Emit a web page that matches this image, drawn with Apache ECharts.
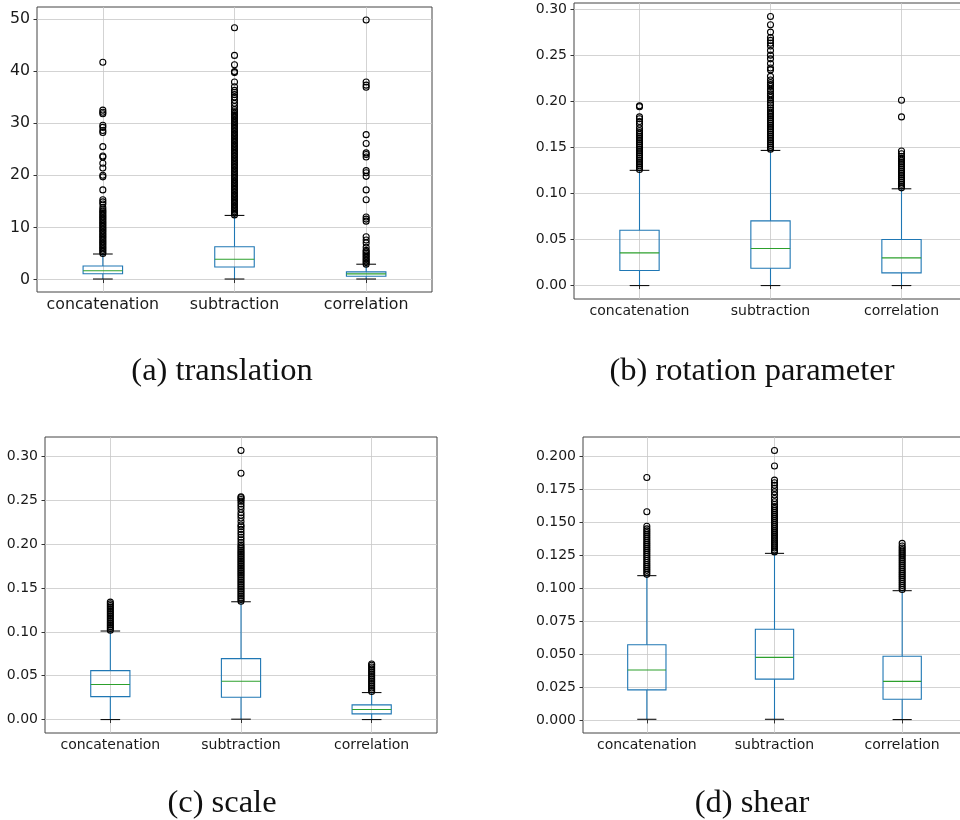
<!DOCTYPE html>
<html>
<head>
<meta charset="utf-8">
<script src="https://cdn.jsdelivr.net/npm/echarts@6.0.0/dist/echarts.min.js"></script>
<style>
  html, body { margin: 0; padding: 0; background: #fff; }
  #main { width: 960px; height: 820px; }
</style>
</head>
<body>
<div id="main"></div>
<script>
const categories = ['concatenation', 'subtraction', 'correlation'];
const captions = ['(a) translation', '(b) rotation parameter', '(c) scale', '(d) shear'];

// box stats per category: [lower whisker, q1, median, q3, upper whisker]
const translationStats = [
  [0.1, 1.1, 1.7, 2.6, 4.9],
  [0.1, 2.4, 3.9, 6.3, 12.3],
  [0.1, 0.64, 1.09, 1.47, 2.94]
];
const rotationStats = [
  [0.0, 0.0163, 0.0355, 0.0600, 0.125],
  [0.0, 0.0188, 0.0402, 0.0702, 0.1466],
  [0.0, 0.0138, 0.0300, 0.0500, 0.105]
];
const scaleStats = [
  [0.0, 0.0262, 0.0399, 0.0558, 0.101],
  [0.0004, 0.0254, 0.0437, 0.0695, 0.1344],
  [0.0, 0.0065, 0.0114, 0.0167, 0.0308]
];
const shearStats = [
  [0.0005, 0.0228, 0.0379, 0.0571, 0.1095],
  [0.0005, 0.0310, 0.0475, 0.0688, 0.1264],
  [0.0003, 0.0157, 0.0293, 0.0483, 0.0981]
];

// outliers (fliers) per category
const translationOutliers = [
  [5.0,5.3,5.6,5.9,6.2,6.5,6.8,7.1,7.4,7.7,8.0,8.3,8.6,8.9,9.2,9.5,9.8,10.1,10.4,10.7,11.0,11.3,11.6,11.9,12.2,12.5,12.8,13.1,13.4,
   13.8,14.5,14.9,15.3,17.2,19.7,20.0,21.4,22.3,23.5,23.7,25.5,28.2,28.6,29.2,29.6,31.8,32.1,32.5,41.7],
  [12.4,12.7,13.0,13.3,13.6,13.9,14.2,14.5,14.8,15.1,15.4,15.7,16.0,16.3,16.6,16.9,17.2,17.5,17.8,18.1,18.4,18.7,19.0,19.3,19.6,19.9,
   20.2,20.5,20.8,21.1,21.4,21.7,22.0,22.3,22.6,22.9,23.2,23.5,23.8,24.1,24.4,24.7,25.0,25.3,25.6,25.9,26.2,26.5,26.8,27.1,27.4,27.7,
   28.0,28.3,28.6,28.9,29.2,29.5,29.8,30.1,30.4,30.7,31.0,31.3,31.6,31.9,32.2,
   32.6,33.2,33.8,34.4,35.0,35.5,35.9,36.3,37.0,37.9,39.7,39.9,41.2,43.0,48.3],
  [2.95,3.25,3.55,3.85,4.15,4.45,4.75,5.05,5.35,5.6,6.2,7.0,7.6,8.2,11.2,11.6,12.0,15.3,17.2,19.8,20.5,20.9,23.5,24.0,24.3,26.1,27.8,
   36.9,37.3,37.9,49.8]
];
const rotationOutliers = [
  [0.126,0.128,0.130,0.132,0.134,0.136,0.138,0.140,0.142,0.144,0.146,0.148,0.150,0.152,0.154,0.156,0.158,0.160,0.162,0.164,0.166,
   0.168,0.171,0.175,0.178,0.181,0.183,0.194,0.195],
  [0.148,0.150,0.152,0.154,0.156,0.158,0.160,0.162,0.164,0.166,0.168,0.170,0.172,0.174,0.176,0.178,0.180,0.182,0.184,0.186,
   0.188,0.190,0.193,0.196,0.198,0.201,0.204,0.206,0.208,0.211,0.213,0.216,0.218,0.220,0.223,0.227,0.234,0.236,0.241,0.246,
   0.250,0.255,0.260,0.263,0.266,0.269,0.275,0.283,0.292],
  [0.106,0.108,0.110,0.112,0.114,0.116,0.118,0.120,0.122,0.124,0.126,0.128,0.130,0.132,0.134,0.136,0.138,0.140,0.143,0.146,0.183,0.201]
];
const scaleOutliers = [
  [0.102,0.104,0.106,0.108,0.110,0.112,0.114,0.116,0.118,0.120,0.122,0.124,0.126,0.128,0.130,0.132,0.134],
  [0.135,0.137,0.139,0.141,0.143,0.145,0.147,0.149,0.151,0.153,0.155,0.157,0.159,0.161,0.163,0.165,0.167,0.169,0.171,0.173,
   0.175,0.177,0.179,0.181,0.183,0.185,0.187,0.189,0.191,0.193,0.195,0.197,0.199,
   0.202,0.205,0.208,0.211,0.214,0.217,0.220,0.222,0.226,0.230,0.233,0.236,0.240,0.243,0.246,0.249,0.251,0.253,0.254,0.281,0.307],
  [0.032,0.034,0.036,0.038,0.040,0.042,0.044,0.046,0.048,0.050,0.052,0.054,0.056,0.058,0.060,0.062,0.0634]
];
const shearOutliers = [
  [0.1105,0.112,0.1135,0.115,0.1165,0.118,0.1195,0.121,0.1225,0.124,0.1255,0.127,0.1285,0.130,0.1315,0.133,0.1345,0.136,0.1375,
   0.139,0.1405,0.142,0.1435,0.145,0.147,0.158,0.184],
  [0.1275,0.129,0.1305,0.132,0.1335,0.135,0.1365,0.138,0.1395,0.141,0.1425,0.144,0.1455,0.147,0.1485,0.150,0.1515,0.153,0.1545,
   0.156,0.1575,0.159,0.1605,0.162,0.1635,0.1656,0.168,0.1707,0.1732,0.1757,0.178,0.180,0.182,0.1927,0.2045],
  [0.099,0.1005,0.102,0.1035,0.105,0.1065,0.108,0.1095,0.111,0.1125,0.114,0.1155,0.117,0.1185,0.120,0.1215,0.123,0.1245,0.126,
   0.1275,0.129,0.1305,0.132,0.134]
];

// tick labels
const translationTicks = [0, 10, 20, 30, 40, 50];
const rotationTicks = [0, 0.05, 0.10, 0.15, 0.20, 0.25, 0.30];
const scaleTicks = [0, 0.05, 0.10, 0.15, 0.20, 0.25, 0.30];
const shearTicks = [0, 0.025, 0.05, 0.075, 0.10, 0.125, 0.15, 0.175, 0.20];

const panels = [
  { stats: translationStats, outliers: translationOutliers, ticks: translationTicks, decimals: 0, yMin: -2.39, yMax: 52.29,
    grid: { left: 37, top: 7, width: 395, height: 285 }, font: 15.8, caption: [222, 371] },
  { stats: rotationStats, outliers: rotationOutliers, ticks: rotationTicks, decimals: 2, yMin: -0.0146, yMax: 0.3066,
    grid: { left: 574, top: 3, width: 393, height: 296 }, font: 14, caption: [752, 371] },
  { stats: scaleStats, outliers: scaleOutliers, ticks: scaleTicks, decimals: 2, yMin: -0.01535, yMax: 0.32235,
    grid: { left: 45, top: 437, width: 392, height: 296 }, font: 14, caption: [222, 803] },
  { stats: shearStats, outliers: shearOutliers, ticks: shearTicks, decimals: 3, yMin: -0.0099, yMax: 0.2147,
    grid: { left: 583, top: 437, width: 383, height: 296 }, font: 14, caption: [752, 803] }
];

const positions = [1, 2, 3];

function renderBox(params, api) {
  const x = api.value(0);
  const low = api.coord([x, api.value(1)]);
  const q1 = api.coord([x, api.value(2)]);
  const med = api.coord([x, api.value(3)]);
  const q3 = api.coord([x, api.value(4)]);
  const high = api.coord([x, api.value(5)]);
  const bw = api.size([0.3, 0])[0];
  const cw = bw / 2;
  const cx = q1[0];
  const blue = { stroke: '#1f77b4', lineWidth: 1.1, fill: null };
  return {
    type: 'group',
    children: [
      { type: 'line', shape: { x1: cx, y1: low[1], x2: cx, y2: q1[1] }, style: blue },
      { type: 'line', shape: { x1: cx, y1: q3[1], x2: cx, y2: high[1] }, style: blue },
      { type: 'rect', shape: { x: cx - bw / 2, y: q3[1], width: bw, height: q1[1] - q3[1] }, style: { stroke: '#1f77b4', lineWidth: 1.1, fill: 'rgba(0,0,0,0)' } },
      { type: 'line', shape: { x1: cx - bw / 2, y1: med[1], x2: cx + bw / 2, y2: med[1] }, style: { stroke: '#2ca02c', lineWidth: 1.1 } },
      { type: 'line', shape: { x1: cx - cw / 2, y1: low[1], x2: cx + cw / 2, y2: low[1] }, style: { stroke: '#111', lineWidth: 1.1 } },
      { type: 'line', shape: { x1: cx - cw / 2, y1: high[1], x2: cx + cw / 2, y2: high[1] }, style: { stroke: '#111', lineWidth: 1.1 } }
    ]
  };
}

const grids = [], xAxes = [], yAxes = [], series = [], graphics = [];
panels.forEach((p, i) => {
  grids.push(Object.assign({
    show: true, borderColor: '#444', borderWidth: 1, backgroundColor: 'transparent',
    containLabel: false, outerBoundsMode: 'none'
  }, p.grid));
  xAxes.push({
    type: 'value', gridIndex: i, min: 0.5, max: 3.5,
    axisLine: { show: false },
    axisTick: { show: true, customValues: positions, length: 3.5, lineStyle: { color: '#333' } },
    axisLabel: {
      customValues: positions, margin: 5, fontSize: p.font, color: '#1a1a1a', fontFamily: 'DejaVu Sans',
      formatter: v => categories[Math.round(v) - 1]
    },
    splitLine: { show: true, lineStyle: { color: '#c8c8c8', width: 0.8 } }
  });
  yAxes.push({
    type: 'value', gridIndex: i, min: p.yMin, max: p.yMax,
    axisLine: { show: false },
    axisTick: { show: true, customValues: p.ticks, length: 3.5, lineStyle: { color: '#333' } },
    axisLabel: {
      customValues: p.ticks, margin: 7, fontSize: p.font, color: '#1a1a1a', fontFamily: 'DejaVu Sans',
      formatter: v => v.toFixed(p.decimals)
    },
    splitLine: { show: true, lineStyle: { color: '#c8c8c8', width: 0.8 } }
  });
  series.push({
    type: 'custom', xAxisIndex: i, yAxisIndex: i,
    renderItem: renderBox,
    data: p.stats.map((s, k) => [positions[k]].concat(s)),
    silent: true
  });
  const pts = [];
  p.outliers.forEach((list, k) => list.forEach(v => pts.push([positions[k], v])));
  series.push({
    type: 'scatter', xAxisIndex: i, yAxisIndex: i,
    symbol: 'circle', symbolSize: 6,
    itemStyle: { color: 'rgba(0,0,0,0)', borderColor: '#000', borderWidth: 1.1, opacity: 1 },
    data: pts, silent: true
  });
  graphics.push({
    type: 'text', x: p.caption[0], y: p.caption[1],
    style: {
      text: captions[i], font: '32.5px "Liberation Serif", serif', fill: '#111',
      align: 'center', verticalAlign: 'middle', textAlign: 'center', textVerticalAlign: 'middle'
    }
  });
});

const chart = echarts.init(document.getElementById('main'));
chart.setOption({
  animation: false,
  backgroundColor: '#fff',
  grid: grids,
  xAxis: xAxes,
  yAxis: yAxes,
  series: series,
  graphic: graphics
});
</script>
</body>
</html>
